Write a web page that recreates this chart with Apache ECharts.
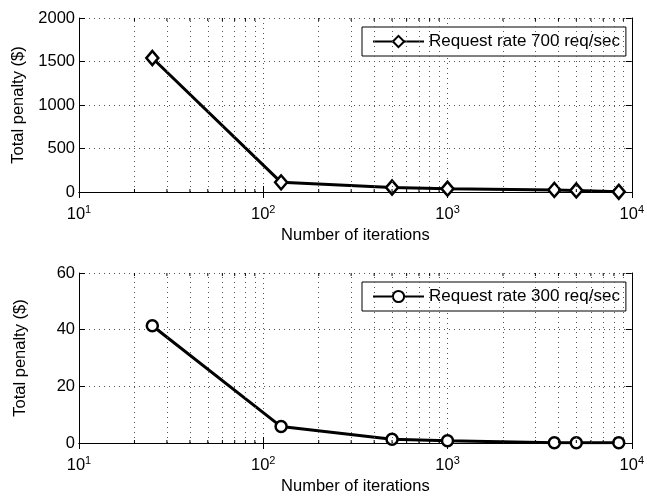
<!DOCTYPE html>
<html>
<head>
<meta charset="utf-8">
<script src="https://cdn.jsdelivr.net/npm/echarts@6/dist/echarts.min.js"></script>
<style>
  html, body { margin: 0; padding: 0; background: #fff; }
  #chart { width: 647px; height: 496px; }
</style>
</head>
<body>
<div id="chart"></div>
<script>
// Iteration counts shared by both panels
const iterations = [25, 125, 500, 1000, 3800, 5000, 8500];
// Total penalty ($) for each request rate
const penalty700 = [1540, 111, 52, 38, 24, 18, 2];
const penalty300 = [41.4, 5.8, 1.3, 0.8, 0.1, 0.1, 0.1];
// Legend names
const seriesNames = ['Request rate 700 req/sec', 'Request rate 300 req/sec'];
// Axis ranges and tick steps
const xRange = [10, 10000];
const yTop = { min: 0, max: 2000, interval: 500 };
const yBottom = { min: 0, max: 60, interval: 20 };
// Intermediate decade positions (2..9 × 10^k) for the dotted grid
const minorX = [20, 30, 40, 50, 60, 70, 80, 90,
                200, 300, 400, 500, 600, 700, 800, 900,
                2000, 3000, 4000, 5000, 6000, 7000, 8000, 9000];

const FONT = "'Liberation Sans', Arial, Helvetica, sans-serif";
const FS = 16.5;
const dotted = { color: '#555', width: 1, type: [1, 4] };

const chart = echarts.init(document.getElementById('chart'), null, { renderer: 'canvas' });

function pair(a, b) { return a.map((x, i) => [x, b[i]]); }

function xAxesFor(gridIndex) {
  return [
    {
      type: 'log', logBase: 10, gridIndex, min: xRange[0], max: xRange[1],
      position: 'bottom',
      name: 'Number of iterations', nameLocation: 'middle', nameGap: 35,
      nameTextStyle: { fontFamily: FONT, fontSize: FS, color: '#000' },
      axisLine: { lineStyle: { color: '#000', width: 1 } },
      axisTick: { inside: true, length: 6, lineStyle: { color: '#000' } },
      axisLabel: {
        margin: 12, color: '#000', fontFamily: FONT,
        formatter: v => '{b|10}{e|' + Math.round(Math.log10(v)) + '}',
        rich: {
          b: { fontSize: FS, fontFamily: FONT, color: '#000', lineHeight: 20 },
          e: { fontSize: 11, fontFamily: FONT, color: '#000', padding: [0, 0, 10, 0] }
        }
      },
      splitLine: { show: true, lineStyle: dotted }
    },
    {
      type: 'log', logBase: 10, gridIndex, min: xRange[0], max: xRange[1],
      position: 'top',
      axisLine: { lineStyle: { color: '#000', width: 1 } },
      axisTick: { inside: true, length: 6, lineStyle: { color: '#000' } },
      axisLabel: { show: false },
      splitLine: { show: false }
    }
  ];
}

function yAxesFor(gridIndex, r) {
  return [
    {
      type: 'value', gridIndex, min: r.min, max: r.max, interval: r.interval,
      position: 'left',
      name: 'Total penalty ($)', nameLocation: 'middle', nameGap: 50,
      nameTextStyle: { fontFamily: FONT, fontSize: FS, color: '#000' },
      axisLine: { show: true, lineStyle: { color: '#000', width: 1 } },
      axisTick: { show: true, inside: true, length: 6, lineStyle: { color: '#000' } },
      axisLabel: {
        margin: 4, color: '#000', fontFamily: FONT, fontSize: FS,
        formatter: v => String(v)
      },
      splitLine: { show: true, lineStyle: dotted }
    },
    {
      type: 'value', gridIndex, min: r.min, max: r.max, interval: r.interval,
      position: 'right',
      axisLine: { show: true, lineStyle: { color: '#000', width: 1 } },
      axisTick: { show: true, inside: true, length: 6, lineStyle: { color: '#000' } },
      axisLabel: { show: false },
      splitLine: { show: false }
    }
  ];
}

function lineSeries(name, xi, yi, data, symbol, size) {
  return {
    name, type: 'line', xAxisIndex: xi, yAxisIndex: yi, data,
    symbol, symbolSize: size, showAllSymbol: true,
    lineStyle: { color: '#000', width: 3 },
    itemStyle: { color: '#fff', borderColor: '#000', borderWidth: 2.5 },
    emphasis: { disabled: true },
    animation: false, z: 3,
    markLine: {
      silent: true, symbol: 'none', animation: false,
      label: { show: false },
      lineStyle: dotted,
      emphasis: { disabled: true },
      data: minorX.map(v => ({ xAxis: v }))
    }
  };
}

function legendFor(name, top) {
  return {
    data: [name], left: 362, top,
    orient: 'horizontal',
    backgroundColor: '#fff', borderColor: '#000', borderWidth: 1, borderRadius: 0,
    padding: [6, 6, 6, 10],
    itemWidth: 51, itemHeight: 14, selectedMode: false,
    textStyle: { fontFamily: FONT, fontSize: 17, color: '#000' }
  };
}

const option = {
  backgroundColor: '#fff',
  animation: false,
  grid: [
    { left: 79, top: 18, width: 556, height: 174 },
    { left: 79, top: 273, width: 556, height: 174 }
  ],
  xAxis: [...xAxesFor(0), ...xAxesFor(1)],
  yAxis: [...yAxesFor(0, yTop), ...yAxesFor(1, yBottom)],
  legend: [legendFor(seriesNames[0], 27), legendFor(seriesNames[1], 282)],
  series: [
    lineSeries(seriesNames[0], 0, 0, pair(iterations, penalty700), 'diamond', [12, 14]),
    lineSeries(seriesNames[1], 2, 2, pair(iterations, penalty300), 'circle', 11)
  ]
};

chart.setOption(option);

// Short inward minor ticks on the bottom and top edges of each panel
function addMinorTicks() {
  const elements = [];
  [0, 1].forEach(g => {
    const rect = chart.getModel().getComponent('grid', g).coordinateSystem.getRect();
    minorX.forEach(v => {
      const px = chart.convertToPixel({ xAxisIndex: g * 2 }, v);
      elements.push({
        type: 'line', silent: true, z: 10,
        shape: { x1: px, y1: rect.y + rect.height, x2: px, y2: rect.y + rect.height - 3 },
        style: { stroke: '#000', lineWidth: 1 }
      });
      elements.push({
        type: 'line', silent: true, z: 10,
        shape: { x1: px, y1: rect.y, x2: px, y2: rect.y + 3 },
        style: { stroke: '#000', lineWidth: 1 }
      });
    });
  });
  chart.setOption({ graphic: elements });
}
addMinorTicks();
</script>
</body>
</html>
